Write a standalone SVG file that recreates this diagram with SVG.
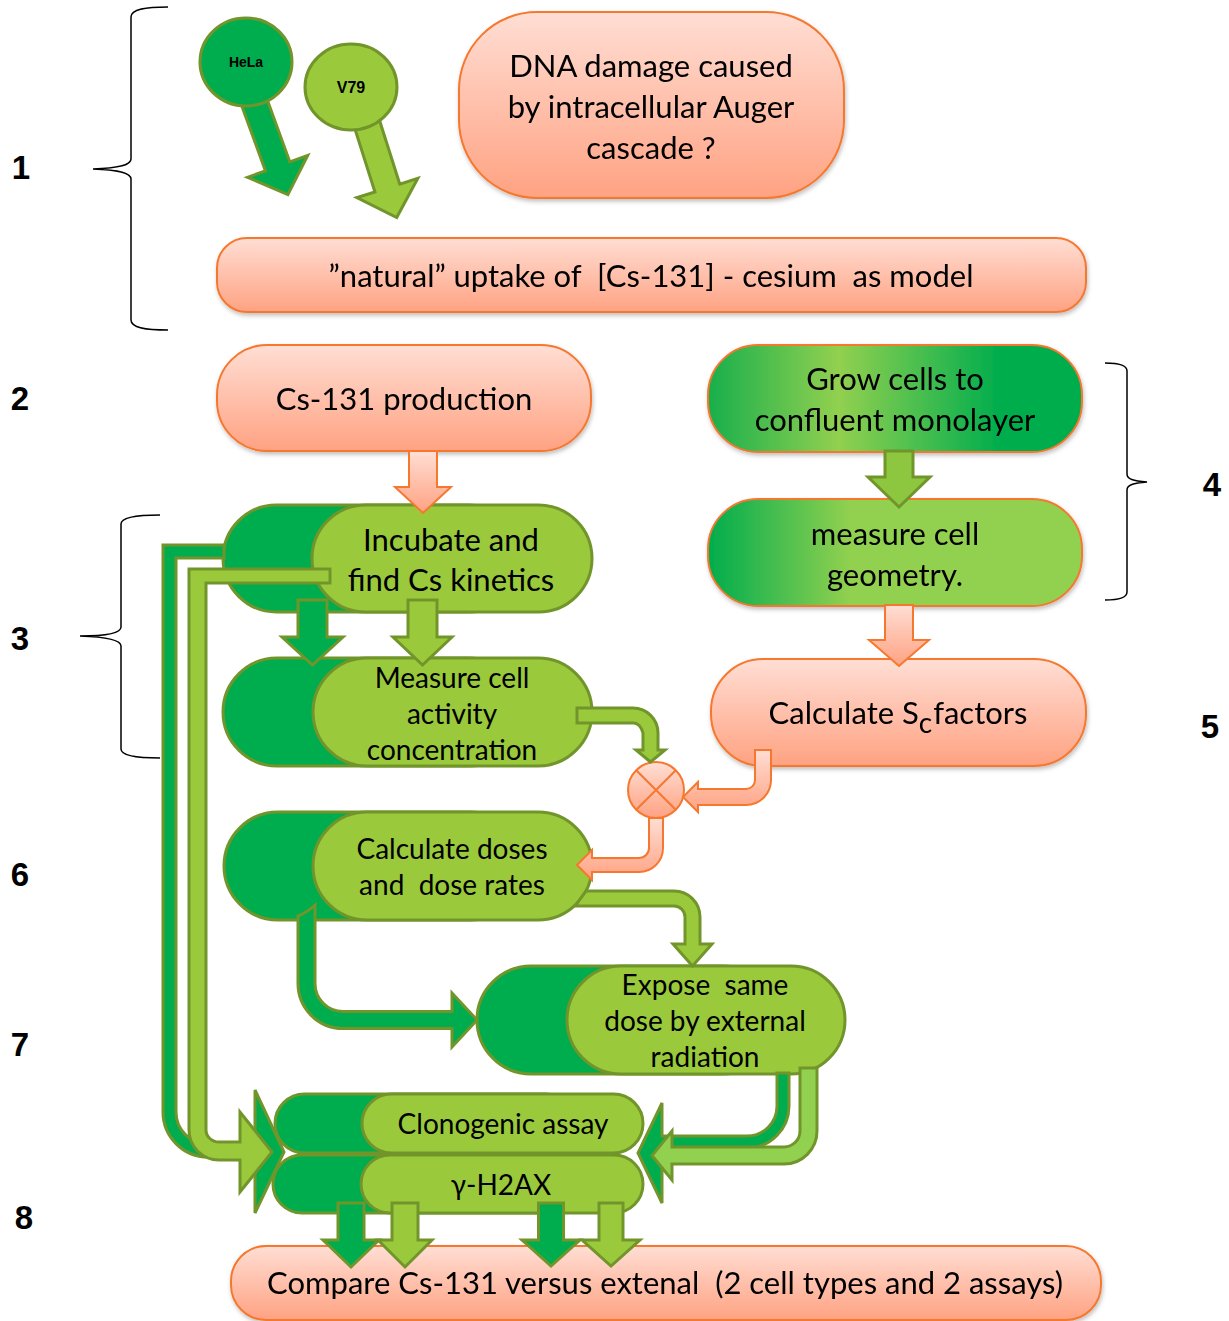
<svg xmlns="http://www.w3.org/2000/svg" width="1229" height="1321" viewBox="0 0 1229 1321">
<defs>
<linearGradient id="salmon" x1="0" y1="0" x2="0" y2="1"><stop offset="0" stop-color="#FFDED4"/><stop offset="1" stop-color="#FFA282"/></linearGradient>
<linearGradient id="grow" x1="0" y1="0" x2="1" y2="0"><stop offset="0" stop-color="#17AF4C"/><stop offset="0.35" stop-color="#92D050"/><stop offset="0.78" stop-color="#00AD4E"/><stop offset="1" stop-color="#00AD4E"/></linearGradient>
<linearGradient id="geom" x1="0" y1="0" x2="1" y2="0"><stop offset="0" stop-color="#00AD4E"/><stop offset="0.38" stop-color="#92D050"/><stop offset="1" stop-color="#92D050"/></linearGradient>
<filter id="sh" x="-10%" y="-10%" width="120%" height="135%"><feDropShadow dx="1" dy="2.5" stdDeviation="2" flood-color="#000" flood-opacity="0.25"/></filter>
</defs>
<style>
.sal{fill:url(#salmon);stroke:#F6782F;stroke-width:2}
.dk{fill:#00AD4E;stroke:#71952B;stroke-width:3}
.lt{fill:#9ACA3C;stroke:#71952B;stroke-width:3}
.lt2{fill:#92D050;stroke:#71952B;stroke-width:3}
.sa{fill:url(#salmon);stroke:#F6782F;stroke-width:2}
.t{font-family:Lato,'Open Sans',sans-serif;fill:#000;text-anchor:middle}
.big{font-size:31px}
.med{font-size:28px}
.num{font-family:'Liberation Sans',Arial,sans-serif;font-weight:bold;font-size:33px;text-anchor:middle;fill:#000}
.br{fill:none;stroke:#000;stroke-width:1.5}
</style>

<g id="brackets">
<path class="br" d="M168,7 C146,7 131,9 131,17 L131,159 C131,165 120,168 93,169 C120,170 131,173 131,179 L131,320 C131,328 146,330 168,330"/>
<path class="br" d="M160,515 C138,515 121,517 121,524 L121,627 C121,633 108,636 80,636 C108,637 121,640 121,646 L121,749 C121,756 138,758 160,758"/>
<path class="br" d="M1105,363 C1116,363 1127,365 1127,371 L1127,474 C1127,479 1133,481 1147,482 C1133,483 1127,485 1127,490 L1127,592 C1127,598 1116,600 1105,600"/>
</g>

<g id="labels">
<text class="num" x="21" y="179">1</text>
<text class="num" x="20" y="410">2</text>
<text class="num" x="20" y="650">3</text>
<text class="num" x="1212" y="496">4</text>
<text class="num" x="1210" y="738">5</text>
<text class="num" x="20" y="886">6</text>
<text class="num" x="20" y="1056">7</text>
<text class="num" x="24" y="1229">8</text>
</g>

<g id="hela">
<path class="dk" transform="translate(240,63) rotate(-20)" d="M-13,0 L-13,110 L-32,110 L0,140 L32,110 L13,110 L13,0 Z"/>
<ellipse class="dk" cx="246" cy="62" rx="46" ry="44"/>
<text x="246" y="67" font-family="'Liberation Sans',Arial,sans-serif" font-weight="bold" font-size="14" text-anchor="middle">HeLa</text>
</g>
<g id="v79">
<path class="lt" transform="translate(355,86) rotate(-17.6)" d="M-13,0 L-13,107 L-32,107 L0,138 L32,107 L13,107 L13,0 Z"/>
<ellipse class="lt" cx="351" cy="87" rx="46" ry="43"/>
<text x="351" y="93" font-family="'Liberation Sans',Arial,sans-serif" font-weight="bold" font-size="16" text-anchor="middle">V79</text>
</g>

<g id="dna" filter="url(#sh)">
<rect class="sal" x="459" y="12" width="385" height="186" rx="78"/>
<text class="t big" x="651" y="77">DNA damage caused</text>
<text class="t big" x="651" y="118">by intracellular Auger</text>
<text class="t big" x="651" y="159">cascade ?</text>
</g>

<g id="natural" filter="url(#sh)">
<rect class="sal" x="217" y="238" width="869" height="74" rx="30"/>
<text class="t big" x="651" y="287" xml:space="preserve">”natural” uptake of  [Cs-131] - cesium  as model</text>
</g>

<g id="cs131" filter="url(#sh)">
<rect class="sal" x="217" y="345" width="374" height="106" rx="50"/>
<text class="t big" x="404" y="410">Cs-131 production</text>
</g>

<g id="grow" filter="url(#sh)">
<rect x="708" y="345" width="374" height="107" rx="50" fill="url(#grow)" stroke="#F6782F" stroke-width="2"/>
<text class="t big" x="895" y="390">Grow cells to</text>
<text class="t big" x="895" y="431">confluent monolayer</text>
</g>

<g id="geometry" filter="url(#sh)">
<rect x="708" y="499" width="374" height="107" rx="50" fill="url(#geom)" stroke="#F6782F" stroke-width="2"/>
<text class="t big" x="895" y="545">measure cell</text>
<text class="t big" x="895" y="586">geometry.</text>
</g>

<g id="scfactors" filter="url(#sh)">
<rect class="sal" x="711" y="659" width="375" height="107" rx="52"/>
<text class="t big" x="898" y="724">Calculate S<tspan dy="9" font-size="28">c</tspan><tspan dy="-9" dx="1">factors</tspan></text>
</g>

<g id="incubate">
<rect class="dk" x="223" y="505" width="300" height="107" rx="53.5"/>
<rect class="lt" x="312" y="505" width="280" height="107" rx="53.5"/>
<text class="t big" x="451" y="551">Incubate and</text>
<text class="t big" x="451" y="591">find Cs kinetics</text>
</g>

<g id="activity">
<rect class="dk" x="223" y="658" width="300" height="108" rx="54"/>
<rect class="lt" x="313" y="658" width="279" height="108" rx="54"/>
<text class="t med" x="452" y="688">Measure cell</text>
<text class="t med" x="452" y="724">activity</text>
<text class="t med" x="452" y="760">concentration</text>
</g>

<g id="doses">
<rect class="dk" x="224" y="812" width="300" height="108" rx="54"/>
<rect class="lt" x="313" y="812" width="279" height="108" rx="54"/>
<text class="t med" x="452" y="859">Calculate doses</text>
<text class="t med" x="452" y="895" xml:space="preserve">and  dose rates</text>
</g>

<g id="expose">
<rect class="dk" x="477" y="966" width="300" height="108" rx="54"/>
<rect class="lt" x="567" y="966" width="278" height="108" rx="54"/>
<text class="t med" x="705" y="995" xml:space="preserve">Expose  same</text>
<text class="t med" x="705" y="1031">dose by external</text>
<text class="t med" x="705" y="1067">radiation</text>
</g>

<g id="clonogenic">
<rect class="dk" x="275" y="1094" width="300" height="59" rx="29.5"/>
<rect class="lt" x="362" y="1094" width="281" height="59" rx="29.5"/>
<text class="t med" x="503" y="1134">Clonogenic assay</text>
</g>

<g id="h2ax">
<rect class="dk" x="273" y="1155" width="300" height="58" rx="29"/>
<rect class="lt" x="361" y="1155" width="282" height="58" rx="29"/>
<text class="t med" x="501" y="1195">γ-H2AX</text>
</g>

<g id="multiply">
<circle class="sa" cx="656" cy="790" r="28"/>
<path d="M636.2,770.2 L675.8,809.8 M675.8,770.2 L636.2,809.8" stroke="#F6782F" stroke-width="2"/>
</g>

<g id="compare" filter="url(#sh)">
<rect class="sal" x="231" y="1246" width="870" height="74" rx="35"/>
<text class="t big" x="665" y="1294" xml:space="preserve">Compare Cs-131 versus extenal  (2 cell types and 2 assays)</text>
</g>

<g id="connectors">
<path class="sa" d="M409,451 L409,487 L395,487 L423,513 L451,487 L437,487 L437,451 Z"/>
<path fill="#8DC63F" stroke="#71952B" stroke-width="3" d="M885,451 L885,477 L868,477 L899,507 L930,477 L913,477 L913,451 Z"/>
<path class="sa" d="M885,605 L885,640 L869,640 L899,666 L929,640 L913,640 L913,605 Z"/>
<path class="dk" d="M298,600 L298,637 L282,637 L312.5,665 L343,637 L327,637 L327,600 Z"/>
<path class="lt" d="M408,600 L408,637 L393,637 L422.5,665 L452,637 L437,637 L437,600 Z"/>
<path class="lt" d="M577,708 L633,708 A25,25 0 0 1 658,733 L658,750 L665,750 L650.5,762 L636,750 L643,750 L643,733 A10,15 0 0 0 633,723 L577,723 Z"/>
<path class="sa" d="M755,750 L771,750 L771,780 A25,25 0 0 1 746,805 L698,805 L698,812 L683,797 L698,782 L698,789 L746,789 A9,9 0 0 0 755,780 Z"/>
<path class="sa" d="M649,818 L663,818 L663,848 A24,24 0 0 1 639,872 L592,872 L592,880 L577,865 L592,850 L592,858 L639,858 A10,10 0 0 0 649,848 Z"/>
<path class="lt" d="M586,891 L674,891 A26,26 0 0 1 700,917 L700,944 L712,944 L692.5,966 L673,944 L685,944 L685,917 A11,11 0 0 0 674,906 L575,906 Z"/>
<path class="dk" d="M315,905 L315,983.5 A28,28 0 0 0 343,1011.5 L452,1011.5 L452,993 L477,1020 L452,1047 L452,1028.5 L343,1028.5 A45,45 0 0 1 298,983.5 L298,916 A54,54 0 0 0 315,905 Z"/>
<path class="dk" d="M224,545 L163,545 L163,1112 A45,45 0 0 0 208,1157 L255,1157 L255,1213 L284,1152 L255,1090 L255,1144 L208,1144 A32,32 0 0 1 176,1112 L176,558 L224,558 Z"/>
<path class="lt" d="M330,569 L189,569 L189,1130 A30,30 0 0 0 219,1160 L240,1160 L240,1192 L272,1152 L240,1112 L240,1142 L219,1142 A13,12 0 0 1 206,1130 L206,583 L330,583 Z"/>
<path class="dk" d="M777,1073 L789,1073 L789,1106 A42,42 0 0 1 747,1148 L662,1148 L662,1203 L638,1153 L662,1103 L662,1136 L747,1136 A30,30 0 0 0 777,1106 Z"/>
<path class="lt2" d="M800,1068 L817,1068 L817,1131 A33,33 0 0 1 784,1164 L672,1164 L672,1180 L652,1155.5 L672,1131 L672,1147 L784,1147 A16,16 0 0 0 800,1131 Z"/>
<path class="dk" d="M338,1203 L338,1240 L323,1240 L351,1267 L379,1240 L364,1240 L364,1203 Z"/>
<path class="lt" d="M392,1203 L392,1240 L378,1240 L405,1267 L432,1240 L418,1240 L418,1203 Z"/>
<path class="dk" d="M538.5,1203 L538.5,1240 L522,1240 L551,1266 L580,1240 L563.5,1240 L563.5,1203 Z"/>
<path class="lt" d="M599,1203 L599,1240 L582,1240 L611,1266 L640,1240 L623,1240 L623,1203 Z"/>
</g>
</svg>
